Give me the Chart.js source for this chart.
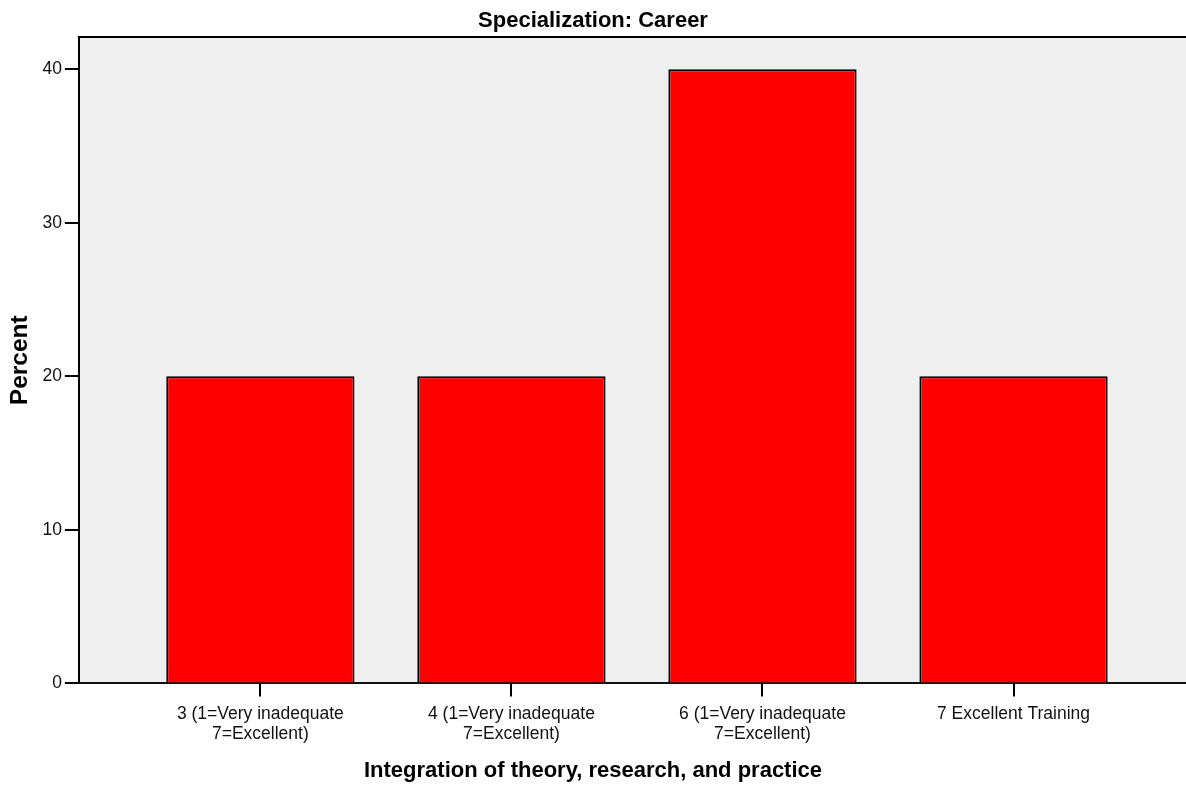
<!DOCTYPE html>
<html>
<head>
<meta charset="utf-8">
<script src="https://cdn.jsdelivr.net/npm/chart.js@4"></script>
<style>
  body { margin: 0; background: #fff; }
  #wrap { width: 1186px; height: 792px; }
</style>
</head>
<body>
<div id="wrap"><canvas id="myChart"></canvas></div>
<script>
const chartTitle = 'Specialization: Career';
const xTitle = 'Integration of theory, research, and practice';
const yTitle = 'Percent';
const categories = [
  ['3 (1=Very inadequate', '7=Excellent)'],
  ['4 (1=Very inadequate', '7=Excellent)'],
  ['6 (1=Very inadequate', '7=Excellent)'],
  '7 Excellent Training'
];
const percents = [20, 20, 40, 20];
const yTicks = [0, 10, 20, 30, 40];

const FONT = "'Liberation Sans', Arial, sans-serif";

// grey plot background + top frame line
const plotFrame = {
  id: 'plotFrame',
  beforeDraw(chart) {
    const { ctx, chartArea: a } = chart;
    ctx.save();
    ctx.fillStyle = '#efefef';
    ctx.fillRect(a.left, a.top, a.right - a.left, a.bottom - a.top);
    ctx.restore();
  },
  afterDraw(chart) {
    const { ctx, chartArea: a } = chart;
    ctx.save();
    ctx.strokeStyle = '#000';
    ctx.lineWidth = 2;
    ctx.beginPath();
    ctx.moveTo(a.left - 1, a.top);
    ctx.lineTo(a.right, a.top);
    ctx.stroke();
    ctx.restore();
  }
};

const ctx = document.getElementById('myChart');

const chart = new Chart(ctx, {
  type: 'bar',
  data: {
    datasets: [{
      data: percents.map((v, i) => ({ x: i, y: v })),
      backgroundColor: '#ff0000',
      borderColor: '#000',
      borderWidth: 2,
      borderSkipped: 'bottom',
      barPercentage: 0.75,
      categoryPercentage: 1
    }]
  },
  options: {
    responsive: true,
    maintainAspectRatio: false,
    animation: false,
    layout: { padding: 0 },
    plugins: {
      legend: { display: false },
      tooltip: { enabled: false },
      title: {
        display: true,
        text: chartTitle,
        color: '#000',
        font: { family: FONT, size: 22, weight: 'bold', lineHeight: 1.2 },
        padding: { top: 8, bottom: 2.6 }
      },
      subtitle: {
        display: true,
        position: 'bottom',
        text: xTitle,
        color: '#000',
        font: { family: FONT, size: 22, weight: 'bold', lineHeight: 1.2 },
        padding: { top: 6, bottom: 8 }
      }
    },
    scales: {
      x: {
        type: 'linear',
        offset: false,
        min: -0.723,
        max: 3.687,
        afterBuildTicks: s => { s.ticks = categories.map((c, i) => ({ value: i })); },
        ticks: {
          color: '#111',
          font: { family: FONT, size: 17.5, lineHeight: 1.12 },
          padding: 8,
          maxRotation: 0,
          autoSkip: false,
          callback: v => categories[v]
        },
        grid: { offset: false, drawOnChartArea: false, tickLength: 13, color: '#000', lineWidth: 2 },
        border: { display: true, color: '#111', width: 2 }
      },
      y: {
        min: 0,
        max: 42.1,
        afterBuildTicks: s => { s.ticks = yTicks.map(v => ({ value: v })); },
        title: {
          display: true,
          text: yTitle,
          color: '#000',
          font: { family: FONT, size: 24.5, weight: 'bold' },
          padding: { top: 6, bottom: 4 }
        },
        ticks: {
          color: '#111',
          font: { family: FONT, size: 17.5 },
          padding: 3
        },
        grid: { drawOnChartArea: false, tickLength: 14, color: '#000', lineWidth: 2 },
        border: { display: true, color: '#000', width: 2 }
      }
    }
  },
  plugins: [plotFrame]
});
</script>
</body>
</html>
